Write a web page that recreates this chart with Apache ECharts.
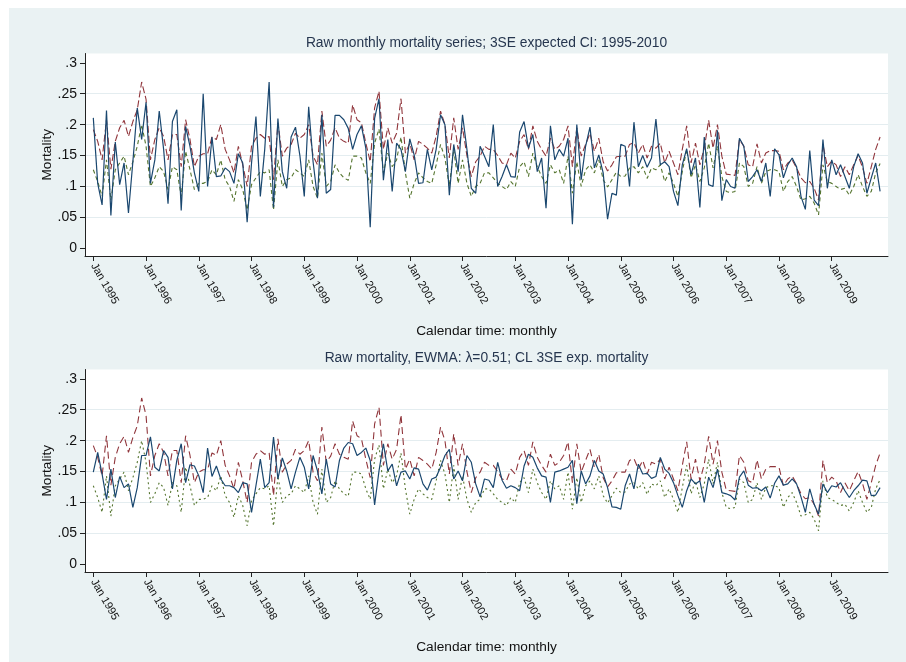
<!DOCTYPE html>
<html>
<head>
<meta charset="utf-8">
<script src="https://cdn.jsdelivr.net/npm/echarts@6/dist/echarts.min.js"></script>
<style>
html,body{margin:0;padding:0;background:#ffffff;width:906px;height:662px;overflow:hidden;}
#chart{position:absolute;left:9px;top:8px;width:897px;height:654px;}
</style>
</head>
<body>
<div id="chart"></div>
<script>
// Monthly index 0 = Jan 1995 ... 179 = Dec 2009
const xTickMonths = [0,12,24,36,48,60,72,84,96,108,120,132,144,156,168];
const xTickLabels = ['Jan 1995','Jan 1996','Jan 1997','Jan 1998','Jan 1999','Jan 2000','Jan 2001','Jan 2002','Jan 2003','Jan 2004','Jan 2005','Jan 2006','Jan 2007','Jan 2008','Jan 2009'];
const yTicks = [0,0.05,0.1,0.15,0.2,0.25,0.3];
const yTickLabels = ['0','.05','.1','.15','.2','.25','.3'];
const yGrid = [0.05,0.1,0.15,0.2,0.25];

const titles = ['Raw monthly mortality series; 3SE expected CI: 1995-2010',
                'Raw mortality, EWMA: \u03bb=0.51; CL 3SE exp. mortality'];

const rawMortality = [
.211,.105,.07,.223,.053,.172,.103,.138,.057,.14,.227,.176,
.236,.105,.143,.222,.16,.072,.205,.224,.061,.197,.165,.122,
.092,.25,.1,.18,.116,.117,.13,.124,.105,.153,.138,.042,
.138,.213,.084,.16,.269,.066,.21,.124,.097,.18,.196,.15,
.084,.229,.14,.081,.216,.089,.095,.215,.215,.208,.194,.16,
.184,.198,.162,.034,.21,.242,.11,.176,.092,.17,.16,.124,
.177,.151,.105,.106,.16,.127,.16,.216,.2,.086,.168,.124,
.216,.16,.097,.089,.165,.149,.132,.2,.1,.116,.135,.116,
.115,.188,.205,.162,.184,.124,.146,.065,.198,.143,.16,.149,
.178,.039,.2,.111,.165,.196,.13,.151,.122,.047,.089,.086,
.168,.165,.1,.204,.132,.15,.131,.146,.209,.135,.14,.132,
.092,.069,.135,.161,.119,.146,.066,.18,.103,.1,.191,.077,
.111,.1,.097,.178,.165,.108,.116,.127,.108,.138,.084,.161,
.151,.114,.135,.146,.132,.084,.063,.158,.078,.069,.176,.097,
.143,.119,.135,.116,.097,.132,.153,.138,.089,.114,.138,.092
];

const upperLimit = [
.192,.173,.143,.208,.128,.173,.195,.207,.181,.205,.224,.269,
.241,.143,.176,.195,.181,.143,.184,.184,.132,.208,.176,.132,
.149,.153,.153,.18,.176,.2,.16,.143,.122,.165,.135,.1,
.165,.178,.184,.178,.181,.111,.203,.149,.162,.168,.186,.178,
.184,.2,.149,.135,.222,.165,.175,.195,.178,.173,.17,.232,
.208,.203,.17,.14,.227,.254,.16,.195,.17,.186,.242,.154,
.17,.143,.173,.168,.162,.154,.181,.222,.2,.146,.211,.16,
.195,.15,.116,.14,.149,.165,.16,.16,.15,.138,.135,.154,
.146,.173,.184,.16,.198,.173,.16,.149,.178,.16,.165,.176,
.198,.132,.195,.149,.168,.186,.157,.178,.14,.125,.135,.148,
.149,.149,.168,.171,.154,.168,.146,.165,.162,.17,.138,.157,
.138,.119,.16,.198,.138,.17,.135,.162,.207,.162,.2,.149,
.12,.119,.118,.176,.165,.135,.132,.169,.138,.154,.158,.158,
.157,.127,.138,.143,.13,.114,.106,.108,.097,.078,.168,.132,
.141,.135,.116,.132,.119,.135,.15,.131,.105,.132,.16,.18
];

const lowerLimit = [
.127,.108,.084,.143,.078,.127,.138,.149,.119,.14,.165,.2,
.165,.1,.114,.132,.124,.095,.132,.127,.084,.157,.127,.095,
.105,.105,.108,.127,.119,.143,.111,.1,.076,.111,.095,.062,
.103,.114,.124,.122,.127,.062,.143,.1,.111,.114,.127,.122,
.116,.143,.1,.081,.154,.1,.108,.135,.122,.114,.11,.149,
.149,.146,.122,.105,.17,.193,.122,.154,.132,.143,.18,.122,
.081,.105,.122,.114,.108,.105,.135,.168,.146,.1,.16,.105,
.143,.105,.084,.1,.105,.122,.122,.114,.105,.1,.095,.108,
.1,.132,.14,.116,.154,.132,.116,.105,.135,.122,.127,.105,
.149,.089,.14,.1,.127,.135,.122,.143,.111,.099,.111,.123,
.116,.117,.13,.132,.122,.132,.113,.13,.127,.135,.108,.122,
.105,.084,.124,.16,.114,.135,.108,.13,.17,.13,.165,.116,
.092,.09,.092,.138,.132,.1,.105,.132,.105,.124,.127,.127,
.124,.092,.108,.116,.1,.078,.08,.084,.073,.054,.135,.108,
.105,.1,.095,.097,.086,.1,.119,.1,.084,.092,.122,.137
];

const ewmaMortality = [
.149,.181,.146,.105,.154,.108,.142,.124,.13,.092,.124,.176,
.176,.206,.157,.151,.184,.173,.122,.168,.195,.132,.161,.159,
.143,.116,.188,.142,.159,.138,.127,.127,.124,.116,.132,.13,
.084,.127,.17,.124,.132,.206,.138,.172,.151,.122,.149,.173,
.157,.122,.176,.151,.114,.17,.13,.125,.168,.188,.197,.195,
.176,.181,.188,.168,.096,.151,.195,.151,.162,.127,.149,.151,
.138,.156,.154,.13,.12,.138,.141,.157,.176,.186,.138,.151,
.135,.176,.165,.13,.109,.138,.136,.124,.165,.136,.123,.127,
.124,.119,.159,.178,.173,.156,.143,.141,.1,.149,.151,.154,
.157,.168,.098,.151,.13,.143,.168,.151,.146,.124,.093,.092,
.089,.127,.146,.122,.162,.146,.147,.139,.142,.173,.154,.147,
.132,.111,.092,.119,.138,.13,.135,.1,.141,.124,.154,.116,
.114,.111,.104,.141,.151,.128,.123,.124,.119,.125,.107,.131,
.143,.128,.13,.138,.13,.109,.084,.122,.097,.081,.13,.116,
.127,.125,.132,.119,.108,.119,.127,.136,.135,.111,.112,.124
];

const NAVY = '#1a476f', MAROON = '#90353b', GREEN = '#55752f';
const FONT = 'Liberation Sans';
const pairs = arr => arr.map((v, i) => [i, v]);

const grids = [
  {left: 76, top: 45.5, width: 803, height: 202.5},
  {left: 76, top: 361.5, width: 803, height: 202.5}
];

function xAx(g) {
  return {
    type: 'value', gridIndex: g, min: -1.89, max: 180.8, position: 'bottom',
    name: 'Calendar time: monthly', nameLocation: 'middle', nameGap: 68, nameMoveOverlap: false,
    nameTextStyle: {fontFamily: FONT, fontSize: 13.7, color: '#111'},
    axisLine: {show: true, onZero: false, lineStyle: {color: '#222', width: 1}},
    axisTick: {show: true, customValues: xTickMonths, length: 5, lineStyle: {color: '#222'}},
    axisLabel: {
      customValues: xTickMonths, rotate: -60, margin: 8,
      fontFamily: FONT, fontSize: 11, color: '#111',
      formatter: v => xTickLabels[xTickMonths.indexOf(Math.round(v))] || ''
    },
    splitLine: {show: false}
  };
}
function yAx(g) {
  return {
    type: 'value', gridIndex: g, min: -0.0125, max: 0.3151, position: 'left',
    name: 'Mortality', nameLocation: 'middle', nameGap: 31, nameMoveOverlap: false,
    nameTextStyle: {fontFamily: FONT, fontSize: 13.7, color: '#111'},
    axisLine: {show: true, onZero: false, lineStyle: {color: '#222', width: 1}},
    axisTick: {show: true, customValues: yTicks, length: 5, lineStyle: {color: '#222'}},
    axisLabel: {
      customValues: yTicks, margin: 8, fontFamily: FONT, fontSize: 14, color: '#111',
      formatter: v => {
        const k = yTicks.findIndex(t => Math.abs(t - v) < 1e-6);
        return k >= 0 ? yTickLabels[k] : '';
      }
    },
    splitLine: {show: false}
  };
}
function yGridAx(g) {
  return {
    type: 'value', gridIndex: g, min: -0.0125, max: 0.3151, position: 'right',
    axisLine: {show: false}, axisLabel: {show: false},
    axisTick: {show: false, customValues: yGrid},
    splitLine: {show: true, lineStyle: {color: '#e4edf0', width: 1}}
  };
}

function lineSeries(data, g, yIdx, color, type, width, z) {
  return {
    type: 'line', xAxisIndex: g, yAxisIndex: yIdx, data: pairs(data),
    showSymbol: false, symbol: 'none', animation: false, z: z,
    lineStyle: {color: color, width: width, type: type}
  };
}

const option = {
  backgroundColor: '#eaf2f3',
  animation: false,
  grid: grids.map(g => Object.assign({show: true, backgroundColor: '#ffffff', borderWidth: 0, containLabel: false, outerBoundsMode: 'none'}, g)),
  xAxis: [xAx(0), xAx(1)],
  yAxis: [yAx(0), yGridAx(0), yAx(1), yGridAx(1)],
  graphic: [
    {type: 'text', x: 477.5, y: 35, style: {text: titles[0], fontFamily: FONT, fontSize: 13.8, fill: '#26364f', textAlign: 'center', textVerticalAlign: 'middle'}},
    {type: 'text', x: 477.5, y: 350, style: {text: titles[1], fontFamily: FONT, fontSize: 13.8, fill: '#26364f', textAlign: 'center', textVerticalAlign: 'middle'}}
  ],
  series: [
    lineSeries(upperLimit, 0, 0, MAROON, [7, 3], 1.1, 2),
    lineSeries(lowerLimit, 0, 0, GREEN, [4, 3], 1.1, 2),
    lineSeries(rawMortality, 0, 0, NAVY, 'solid', 1.2, 3),
    lineSeries(upperLimit, 1, 2, MAROON, [7, 4], 1.1, 2),
    lineSeries(lowerLimit, 1, 2, GREEN, [2, 3], 1.1, 2),
    lineSeries(ewmaMortality, 1, 2, NAVY, 'solid', 1.2, 3)
  ]
};

const chart = echarts.init(document.getElementById('chart'), null, {renderer: 'canvas'});
chart.setOption(option);
</script>
</body>
</html>
